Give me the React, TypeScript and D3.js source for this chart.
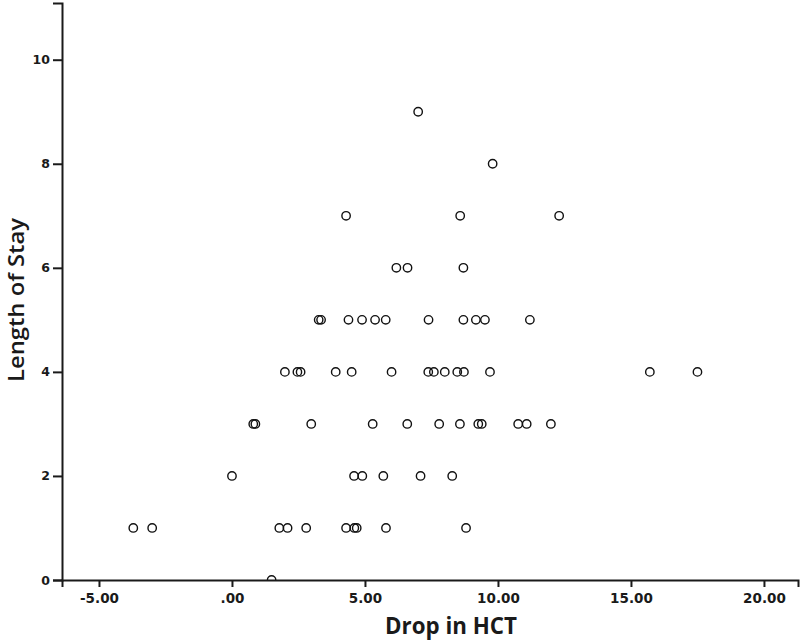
import { useEffect, useMemo, useRef } from "react";
import * as d3 from "d3";

const WIDTH = 800;
const HEIGHT = 641;
const MARGIN = { top: 3, right: 2, bottom: 61, left: 62 };

// Length of stay levels and the HCT drop values read at each level
const stayLevels = [0, 1, 2, 3, 4, 5, 6, 7, 8, 9];
const hctAtStay0 = [1.49];
const hctAtStay1 = [-3.71, -3.0, 1.78, 2.09, 2.79, 4.29, 4.6, 4.69, 5.79, 8.8];
const hctAtStay2 = [0.0, 4.59, 4.9, 5.69, 7.09, 8.28];
const hctAtStay3 = [0.8, 0.88, 2.98, 5.29, 6.59, 7.79, 8.57, 9.26, 9.39, 10.76, 11.08, 11.99];
const hctAtStay4 = [1.99, 2.46, 2.58, 3.9, 4.5, 6.0, 7.38, 7.59, 8.0, 8.47, 8.72, 9.7, 15.71, 17.5];
const hctAtStay5 = [3.26, 3.35, 4.38, 4.89, 5.38, 5.78, 7.39, 8.7, 9.17, 9.51, 11.2];
const hctAtStay6 = [6.18, 6.6, 8.7];
const hctAtStay7 = [4.29, 8.58, 12.3];
const hctAtStay8 = [9.8];
const hctAtStay9 = [7.0];

const hctByStay = [
  hctAtStay0, hctAtStay1, hctAtStay2, hctAtStay3, hctAtStay4,
  hctAtStay5, hctAtStay6, hctAtStay7, hctAtStay8, hctAtStay9,
];

const xTicks = [-5, 0, 5, 10, 15, 20];
const yTicks = [0, 2, 4, 6, 8, 10];
const xDomain: [number, number] = [-6.39, 21.28];
const yDomain: [number, number] = [0, 11.09];

const X_TITLE = "Drop in HCT";
const Y_TITLE = "Length of Stay";

const fmtX = (d: number) =>
  d === 0 ? ".00" : (d < 0 ? "-" : "") + Math.abs(d).toFixed(2);

export default function App() {
  const axesRef = useRef<SVGGElement>(null);
  const boundsWidth = WIDTH - MARGIN.left - MARGIN.right;
  const boundsHeight = HEIGHT - MARGIN.top - MARGIN.bottom;

  const xScale = useMemo(
    () => d3.scaleLinear().domain(xDomain).range([0, boundsWidth]),
    [boundsWidth]
  );
  const yScale = useMemo(
    () => d3.scaleLinear().domain(yDomain).range([boundsHeight, 0]),
    [boundsHeight]
  );

  const points = stayLevels.flatMap((stay, i) =>
    hctByStay[i].map((hct) => ({ hct, stay }))
  );

  useEffect(() => {
    const g = d3.select(axesRef.current);
    g.selectAll("*").remove();

    const xAxis = g
      .append("g")
      .attr("transform", `translate(0,${boundsHeight})`)
      .call(
        d3.axisBottom(xScale).tickValues(xTicks).tickFormat((d) => fmtX(+d)).tickSizeOuter(0).tickSize(7).tickPadding(6)
      );

    const yAxis = g
      .append("g")
      .call(
        d3.axisLeft(yScale).tickValues(yTicks).tickFormat(d3.format("d")).tickSizeOuter(0).tickSize(9).tickPadding(3)
      );

    [xAxis, yAxis].forEach((ax) => {
      ax.select(".domain").attr("stroke", "#1a1a1a").attr("stroke-width", 2);
      ax.selectAll(".tick line").attr("stroke", "#1a1a1a").attr("stroke-width", 2);
      ax.selectAll(".tick text")
        .attr("fill", "#1a1a1a")
        .style("font-family", "'DejaVu Sans', sans-serif")
        .style("font-weight", "bold")
        .style("font-size", "13.5px");
    });
    yAxis.selectAll(".tick text").style("font-size", "12.5px");
  }, [xScale, yScale, boundsHeight]);

  return (
    <div style={{ position: "absolute", left: 0, top: 0 }}>
      <svg width={WIDTH} height={HEIGHT} style={{ display: "block", background: "#fff" }}>
        <defs>
          <clipPath id="plot-clip">
            <rect x={0} y={0} width={boundsWidth} height={boundsHeight} />
          </clipPath>
        </defs>
        <g transform={`translate(${MARGIN.left},${MARGIN.top})`}>
          <g clipPath="url(#plot-clip)">
            {points.map((p, i) => (
              <circle
                key={i}
                cx={xScale(p.hct)}
                cy={yScale(p.stay)}
                r={4.2}
                fill="none"
                stroke="#111"
                strokeWidth={1.4}
              />
            ))}
          </g>
          <g ref={axesRef} />
        </g>
        <text
          x={451}
          y={634}
          textAnchor="middle"
          textLength={132}
          lengthAdjust="spacingAndGlyphs"
          fill="#1a1a1a"
          style={{ fontFamily: "'Open Sans', sans-serif", fontWeight: 700, fontSize: 23 }}
        >
          {X_TITLE}
        </text>
        <text
          transform="translate(24,300) rotate(-90)"
          textAnchor="middle"
          textLength={164}
          lengthAdjust="spacingAndGlyphs"
          fill="#1a1a1a"
          style={{ fontFamily: "'Open Sans', sans-serif", fontWeight: 600, fontSize: 21 }}
        >
          {Y_TITLE}
        </text>
      </svg>
    </div>
  );
}
